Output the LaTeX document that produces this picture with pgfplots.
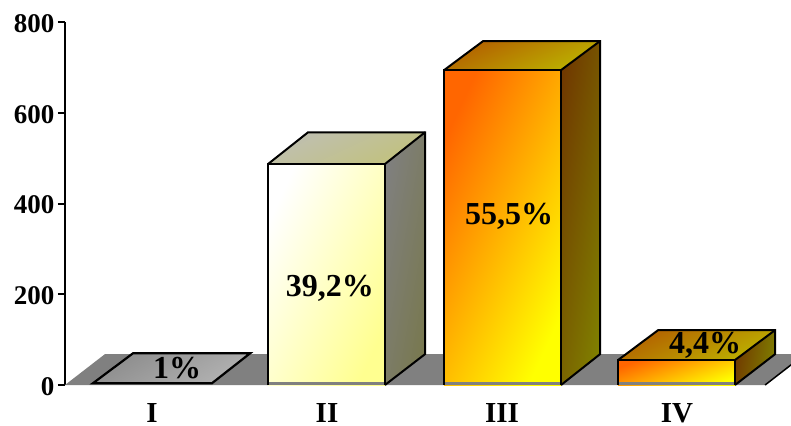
\documentclass[border=0pt]{standalone}
\usepackage{pgfplots}
\pgfplotsset{compat=1.18}
\usepackage{fontspec}
\setmainfont{Liberation Serif}
\definecolor{floorgray}{HTML}{808080}
\definecolor{orangeA}{HTML}{FF6600}
\definecolor{yellowA}{HTML}{FFFF00}
\definecolor{topA}{HTML}{B35F00}
\definecolor{topB}{HTML}{BCB400}
\definecolor{sideA}{HTML}{703800}
\definecolor{sideB}{HTML}{808000}
\definecolor{creamA}{HTML}{FFFFFF}
\definecolor{creamB}{HTML}{FFFF90}
\definecolor{ctopA}{HTML}{BFBFB2}
\definecolor{ctopB}{HTML}{C2C27C}
\definecolor{csideA}{HTML}{808080}
\definecolor{csideB}{HTML}{78784E}
\tikzset{
  edge/.style={draw=black,line width=2pt,line join=miter},
  frontO/.style={left color=orangeA,right color=yellowA,shading angle=65},
  topO/.style={left color=topA,right color=topB,shading angle=25},
  sideO/.style={left color=sideA,right color=sideB,shading angle=80},
  frontC/.style={left color=creamA,right color=creamB,shading angle=65},
  topC/.style={left color=ctopA,right color=ctopB,shading angle=25},
  sideC/.style={left color=csideA,right color=csideB,shading angle=80},
  share/.style={font=\fontsize{32}{34}\selectfont\bfseries},
}
\begin{document}
\begin{tikzpicture}
\path[use as bounding box] (-65pt,-40pt) rectangle (726pt,385pt);
\begin{axis}[
  at={(0pt,0pt)},anchor=south west,
  scale only axis,width=726pt,height=363pt,
  xmin=-0.497,xmax=3.651,ymin=0,ymax=800,
  axis y line*=left,axis x line*=bottom,
  x axis line style={draw=none},
  y axis line style={-,line width=2pt},
  xtick={0,1,2,3},xticklabels={I,II,III,IV},
  ytick={0,200,400,600,800},
  major x tick style={draw=none},
  major y tick style={draw=black,line width=2pt},
  tick align=outside,
  major tick length=7pt,
  /pgf/number format/assume math mode=true,
  tick label style={font=\fontsize{27}{30}\selectfont\bfseries},
  xticklabel style={inner sep=0pt,yshift=-11pt,font=\fontsize{29}{30}\selectfont\bfseries},
  yticklabel style={yshift=-1.5pt},
]
% floor of the 3D plot
\addplot[fill=floorgray,draw=none] coordinates {(-0.497,0) (-0.269,68) (3.73,68) (3.503,0)} -- cycle;
\addplot[draw=black,line width=1.5pt] coordinates {(3.503,0) (3.73,68)};

% I
\addplot[left color=gray!90,right color=gray!60,shading angle=30,draw=none] coordinates {(-0.337,4) (-0.108,70) (0.561,70) (0.343,4)} -- cycle;
\addplot[edge,line width=2.2pt] coordinates {(-0.337,4) (-0.108,70) (0.561,70) (0.343,4)} -- cycle;

% II
\addplot[frontC,draw=none] coordinates {(0.663,0) (0.663,487) (1.331,487) (1.331,0)} -- cycle;
\addplot[topC,draw=none] coordinates {(0.663,487) (0.892,557) (1.56,557) (1.331,487)} -- cycle;
\addplot[sideC,draw=none] coordinates {(1.331,0) (1.331,487) (1.56,557) (1.56,68)} -- cycle;
\addplot[fill=floorgray,draw=none] coordinates {(0.663,0) (0.663,7) (1.331,7) (1.331,0)} -- cycle;
\addplot[edge] coordinates {(0.663,0) (0.663,487) (1.331,487) (1.331,0)};
\addplot[edge] coordinates {(0.663,487) (0.892,557) (1.56,557) (1.56,68) (1.331,0)};
\addplot[edge] coordinates {(1.331,487) (1.56,557)};

% III
\addplot[frontO,draw=none] coordinates {(1.669,0) (1.669,694) (2.337,694) (2.337,0)} -- cycle;
\addplot[topO,draw=none] coordinates {(1.669,694) (1.892,758) (2.56,758) (2.337,694)} -- cycle;
\addplot[sideO,draw=none] coordinates {(2.337,0) (2.337,694) (2.56,758) (2.56,68)} -- cycle;
\addplot[fill=floorgray,draw=none] coordinates {(1.669,0) (1.669,7) (2.337,7) (2.337,0)} -- cycle;
\addplot[edge] coordinates {(1.669,0) (1.669,694) (2.337,694) (2.337,0)};
\addplot[edge] coordinates {(1.669,694) (1.892,758) (2.56,758) (2.56,68) (2.337,0)};
\addplot[edge] coordinates {(2.337,694) (2.56,758)};

% IV
\addplot[frontO,shading angle=20,draw=none] coordinates {(2.663,0) (2.663,55) (3.331,55) (3.331,0)} -- cycle;
\addplot[topO,draw=none] coordinates {(2.663,55) (2.892,121) (3.56,121) (3.331,55)} -- cycle;
\addplot[sideO,draw=none] coordinates {(3.331,0) (3.331,55) (3.56,121) (3.56,68)} -- cycle;
\addplot[fill=floorgray,draw=none] coordinates {(2.663,0) (2.663,7) (3.331,7) (3.331,0)} -- cycle;
\addplot[edge] coordinates {(2.663,0) (2.663,55) (3.331,55) (3.331,0)};
\addplot[edge] coordinates {(2.663,55) (2.892,121) (3.56,121) (3.56,68) (3.331,0)};
\addplot[edge] coordinates {(3.331,55) (3.56,121)};

% share of each class
\node[share] at (axis cs:0.143,38) {1\%};
\node[share] at (axis cs:1.017,212) {39,2\%};
\node[share] at (axis cs:2.04,371) {55,5\%};
\node[share] at (axis cs:3.16,88) {4,4\%};
\end{axis}
\end{tikzpicture}
\end{document}
